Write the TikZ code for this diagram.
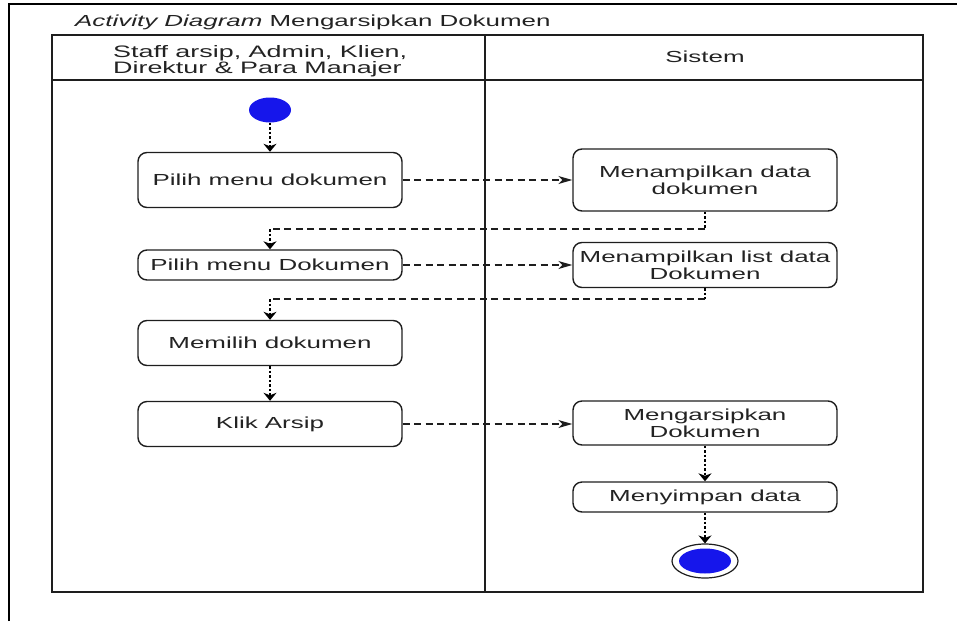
\documentclass[tikz,border=0pt]{standalone}
\usepackage{fontspec}
\setmainfont{Liberation Sans}[FakeStretch=1.62]
\usetikzlibrary{arrows.meta,shapes.geometric}

\definecolor{inkgray}{RGB}{35,35,35}
\definecolor{lineblk}{RGB}{30,30,30}
\definecolor{nodeblue}{RGB}{22,22,235}

\begin{document}
\begin{tikzpicture}[x=1pt,y=-1pt,
  every node/.style={font=\fontsize{16}{17}\selectfont, text=inkgray},
  act/.style={draw=lineblk, line width=1.4pt, rounded corners=9pt,
    minimum width=264pt, align=center, inner sep=0pt},
  frame/.style={draw=black, line width=1.8pt},
  lane/.style={draw=lineblk, line width=1.7pt},
  dotseg/.style={draw=black, line width=1.8pt, dash pattern=on 2.5pt off 2pt},
  dotarrow/.style={dotseg, -{Stealth[length=8pt,width=13pt,inset=2.5pt]}},
  dashseg/.style={draw=lineblk, line width=1.1pt, dash pattern=on 7pt off 4.5pt},
  dasharrow/.style={dashseg, -{Stealth[length=14pt,width=8pt,inset=4pt]}},
  startnode/.style={ellipse, fill=nodeblue, inner sep=0pt,
    minimum width=42pt, minimum height=25pt},
]
\useasboundingbox (0,0) rectangle (957,621);

% page frame
\draw[frame] (9,621) -- (9,4) -- (957,4);

% title
\node[anchor=west, inner sep=0pt] (title) at (75,22)
  {\textit{Activity Diagram} Mengarsipkan Dokumen};

% swimlanes
\draw[lane] (52,35) rectangle (923,592);
\draw[lane] (52,80) -- (923,80);
\draw[lane] (485,35) -- (485,592);
\node[align=left, anchor=west, inner sep=0pt,
  font=\fontsize{16.6}{16}\selectfont] (laneL) at (113,61)
  {Staff arsip, Admin, Klien,\\Direktur \& Para Manajer};
\node (laneR) at (705,57) {Sistem};

% activities, user lane
\node[startnode] (st) at (270,110) {};
\node[act, minimum height=55pt] (b1) at (270,180) {Pilih menu dokumen};
\node[act, minimum height=30pt] (b3) at (270,265) {Pilih menu Dokumen};
\node[act, minimum height=45pt] (b5) at (270,343) {Memilih dokumen};
\node[act, minimum height=45pt] (b6) at (270,424) {Klik Arsip};

% activities, system lane
\node[act, minimum height=62pt] (b2) at (705,180) {Menampilkan data\\dokumen};
\node[act, minimum height=45pt] (b4) at (705,265) {Menampilkan list data\\Dokumen};
\node[act, minimum height=44pt] (b7) at (705,423) {Mengarsipkan\\Dokumen};
\node[act, minimum height=30pt] (b8) at (705,497) {Menyimpan data};

% final node
\node[ellipse, draw=lineblk, line width=1.2pt, fill=white, inner sep=0pt,
  minimum width=66pt, minimum height=34pt] (fin) at (705,561) {};
\node[ellipse, fill=nodeblue, inner sep=0pt,
  minimum width=52pt, minimum height=25pt] (finc) at (fin) {};

% return points between the lanes
\coordinate (r1a) at (705,229);
\coordinate (r1b) at (270,229);
\coordinate (r2a) at (705,299);
\coordinate (r2b) at (270,299);

% flow
\draw[dotarrow] (st.south) -- (b1.north);
\draw[dasharrow] (b1.east) -- (b1.east -| b2.west);
\draw[dotseg] (b2.south) -- (r1a);
\draw[dashseg] (r1a) -- (r1b);
\draw[dotarrow] (r1b) -- (b3.north);
\draw[dasharrow] (b3.east) -- (b3.east -| b4.west);
\draw[dotseg] (b4.south) -- (r2a);
\draw[dashseg] (r2a) -- (r2b);
\draw[dotarrow] (r2b) -- (b5.north);
\draw[dotarrow] (b5.south) -- (b6.north);
\draw[dasharrow] (b6.east) -- (b6.east -| b7.west);
\draw[dotarrow] (b7.south) -- (b8.north);
\draw[dotarrow] (b8.south) -- (fin.north);
\end{tikzpicture}
\end{document}
